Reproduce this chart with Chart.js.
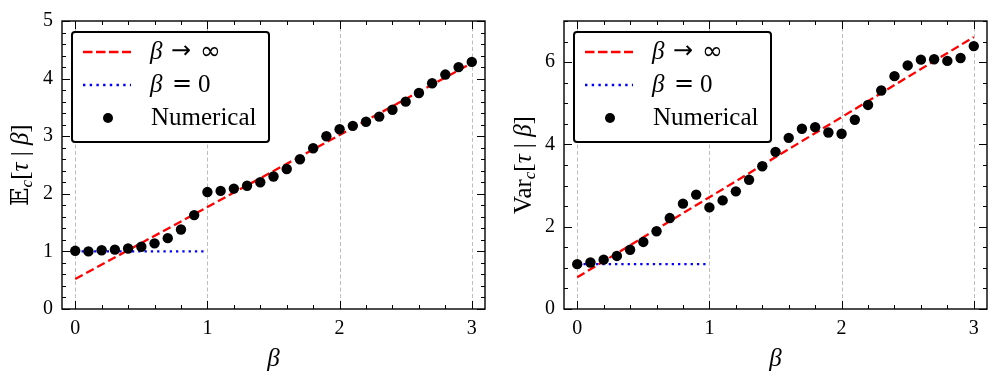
<!DOCTYPE html>
<html>
<head>
<meta charset="utf-8">
<script src="https://cdn.jsdelivr.net/npm/chart.js@4.4.0/dist/chart.umd.min.js"></script>
<style>
  html, body { margin: 0; padding: 0; background: #fff; }
  #wrap { display: flex; width: 996px; height: 378px; }
  canvas { display: block; }
</style>
</head>
<body>
<div id="wrap">
  <canvas id="meanChart" width="498" height="378"></canvas>
  <canvas id="varChart" width="498" height="378"></canvas>
</div>
<script>
// beta grid of the numerical runs
const betas = [0, 0.1, 0.2, 0.3, 0.4, 0.5, 0.6, 0.7, 0.8, 0.9, 1.0,
               1.1, 1.2, 1.3, 1.4, 1.5, 1.6, 1.7, 1.8, 1.9, 2.0,
               2.1, 2.2, 2.3, 2.4, 2.5, 2.6, 2.7, 2.8, 2.9, 3.0];

// numerical mean E_c[tau | beta]
const meanVals = [1.01, 1.00, 1.02, 1.03, 1.05, 1.08, 1.14, 1.23, 1.38, 1.63, 2.03,
                  2.05, 2.09, 2.14, 2.20, 2.30, 2.43, 2.60, 2.79, 3.00, 3.12,
                  3.18, 3.25, 3.34, 3.46, 3.60, 3.75, 3.92, 4.07, 4.20, 4.29];

// numerical variance Var_c[tau | beta]
const varVals = [1.09, 1.13, 1.20, 1.29, 1.44, 1.63, 1.89, 2.21, 2.56, 2.78, 2.47,
                 2.64, 2.86, 3.14, 3.47, 3.82, 4.16, 4.38, 4.42, 4.29, 4.26,
                 4.60, 4.96, 5.31, 5.66, 5.92, 6.06, 6.07, 6.03, 6.10, 6.39];

// asymptotes (beta -> inf) and beta = 0 limits
const asymX = [0, 3];
const meanAsym = [0.52, 4.27];
const varAsym = [0.77, 6.61];
const zeroX = [0, 1];
const meanZero = [1.0, 1.0];
const varZero = [1.09, 1.09];

const xTicks = [0, 1, 2, 3];
const meanTicks = [0, 1, 2, 3, 4, 5];
const varTicks = [0, 2, 4, 6];

const SERIF = '"Liberation Serif", "DejaVu Serif", serif';
const SYM = '"DejaVu Sans", "DejaVu Serif", sans-serif';

function pts(xs, ys) {
  return xs.map((x, i) => ({ x: x, y: ys[i] }));
}

// dashed vertical grid at the major x ticks, under the data
const gridPlugin = {
  id: 'vgrid',
  beforeDatasetsDraw(chart) {
    const ctx = chart.ctx;
    const a = chart.chartArea;
    ctx.save();
    ctx.strokeStyle = '#b5b5b5';
    ctx.lineWidth = 0.9;
    ctx.setLineDash([4, 2.5]);
    ctx.beginPath();
    chart.scales.x.ticks.forEach(t => {
      const px = Math.round(chart.scales.x.getPixelForValue(t.value)) + 0.5;
      ctx.moveTo(px, a.top);
      ctx.lineTo(px, a.bottom);
    });
    ctx.stroke();
    ctx.restore();
  }
};

// frame + inward major/minor ticks on all four sides, axis titles
const framePlugin = {
  id: 'frame',
  afterDraw(chart, args, opts) {
    const ctx = chart.ctx;
    const a = chart.chartArea;
    const xs = chart.scales.x, ys = chart.scales.y;
    ctx.save();
    ctx.strokeStyle = '#000';
    ctx.lineWidth = 1;
    ctx.beginPath();
    const minorX = [], minorY = [];
    for (let i = 0; i * opts.xMinor <= xs.max + 1e-9; i++) minorX.push(i * opts.xMinor);
    for (let i = 0; i * opts.yMinor <= ys.max + 1e-9; i++) minorY.push(i * opts.yMinor);
    minorX.forEach(v => {
      const px = Math.round(xs.getPixelForValue(v)) + 0.5;
      ctx.moveTo(px, a.bottom); ctx.lineTo(px, a.bottom - 4);
      ctx.moveTo(px, a.top); ctx.lineTo(px, a.top + 4);
    });
    minorY.forEach(v => {
      const py = Math.round(ys.getPixelForValue(v)) + 0.5;
      ctx.moveTo(a.left, py); ctx.lineTo(a.left + 4, py);
      ctx.moveTo(a.right, py); ctx.lineTo(a.right - 4, py);
    });
    xs.ticks.forEach(t => {
      const px = Math.round(xs.getPixelForValue(t.value)) + 0.5;
      ctx.moveTo(px, a.bottom); ctx.lineTo(px, a.bottom - 8);
      ctx.moveTo(px, a.top); ctx.lineTo(px, a.top + 8);
    });
    ys.ticks.forEach(t => {
      const py = Math.round(ys.getPixelForValue(t.value)) + 0.5;
      ctx.moveTo(a.left, py); ctx.lineTo(a.left + 8, py);
      ctx.moveTo(a.right, py); ctx.lineTo(a.right - 8, py);
    });
    ctx.stroke();
    ctx.lineWidth = 1.4;
    ctx.strokeRect(a.left, a.top, a.right - a.left, a.bottom - a.top);

    // axis titles
    ctx.fillStyle = '#000';
    ctx.textBaseline = 'alphabetic';
    ctx.font = 'italic 25px ' + SERIF;
    ctx.textAlign = 'center';
    ctx.fillText('\u03b2', (a.left + a.right) / 2, 366);

    const parts = opts.yTitle;
    const widths = parts.map(p => { ctx.font = p.font; return ctx.measureText(p.t).width; });
    const total = widths.reduce((s, w) => s + w, 0);
    ctx.translate(opts.yTitleX, (a.top + a.bottom) / 2);
    ctx.rotate(-Math.PI / 2);
    ctx.textAlign = 'left';
    let cx = -total / 2;
    parts.forEach((p, i) => {
      ctx.font = p.font;
      ctx.fillText(p.t, cx, 8 + (p.dy || 0));
      cx += widths[i];
    });
    ctx.restore();
  }
};

// legend box drawn in the upper left of the plot
const legendPlugin = {
  id: 'boxLegend',
  afterDraw(chart) {
    const ctx = chart.ctx;
    const a = chart.chartArea;
    const bx = a.left + 10, by = a.top + 11, bw = 197, bh = 110;
    ctx.save();
    ctx.fillStyle = '#fff';
    ctx.strokeStyle = '#000';
    ctx.lineWidth = 2;
    ctx.beginPath();
    ctx.roundRect(bx, by, bw, bh, 3);
    ctx.fill();
    ctx.stroke();

    const rows = [by + 20, by + 53, by + 86];
    const tx = bx + 78;
    // red dashed sample
    ctx.lineWidth = 2.4;
    ctx.strokeStyle = '#ff0000';
    ctx.setLineDash([9.5, 3.5]);
    ctx.beginPath(); ctx.moveTo(bx + 11, rows[0]); ctx.lineTo(bx + 59, rows[0]); ctx.stroke();
    // blue dotted sample
    ctx.strokeStyle = '#0000ff';
    ctx.setLineDash([2.4, 4.3]);
    ctx.beginPath(); ctx.moveTo(bx + 11, rows[1]); ctx.lineTo(bx + 59, rows[1]); ctx.stroke();
    ctx.setLineDash([]);
    // marker
    ctx.fillStyle = '#000';
    ctx.beginPath(); ctx.arc(bx + 36, rows[2], 5, 0, Math.PI * 2); ctx.fill();

    ctx.textBaseline = 'middle';
    ctx.textAlign = 'left';
    const put = (t, font, x, y) => { ctx.font = font; ctx.fillText(t, x, y); };
    put('\u03b2', 'italic 25px ' + SERIF, tx, rows[0]);
    put('\u2192', 'normal 24px ' + SYM, tx + 21, rows[0]);
    put('\u221e', 'normal 25px ' + SYM, tx + 50, rows[0]);
    put('\u03b2', 'italic 25px ' + SERIF, tx, rows[1]);
    put('=', 'normal 24px ' + SYM, tx + 22, rows[1]);
    put('0', 'normal 25px ' + SERIF, tx + 48, rows[1]);
    put('Numerical', 'normal 25px ' + SERIF, tx + 1, rows[2]);
    ctx.restore();
  }
};

function makeChart(id, vals, asym, zero, yMax, yTicks, yMinor, yWidth, padRight, yTitle, yTitleX) {
  return new Chart(document.getElementById(id), {
    type: 'scatter',
    data: {
      datasets: [
        {
          label: 'Numerical',
          data: pts(betas, vals),
          backgroundColor: '#000',
          borderWidth: 0,
          pointRadius: 5.2,
          order: 0
        },
        {
          label: 'beta -> inf',
          data: pts(asymX, asym),
          showLine: true,
          borderColor: '#ff0000',
          borderWidth: 2.3,
          borderDash: [8.5, 4],
          pointRadius: 0,
          order: 1
        },
        {
          label: 'beta = 0',
          data: pts(zeroX, zero),
          showLine: true,
          borderColor: '#0000ff',
          borderWidth: 2.3,
          borderDash: [2.3, 4],
          pointRadius: 0,
          order: 2
        }
      ]
    },
    options: {
      responsive: false,
      animation: false,
      layout: { padding: { top: 16, right: padRight, left: 0, bottom: 0 } },
      plugins: {
        legend: { display: false },
        tooltip: { enabled: false },
        frame: { xMinor: 0.2, yMinor: yMinor, yTitle: yTitle, yTitleX: yTitleX }
      },
      scales: {
        x: {
          type: 'linear',
          min: -0.1,
          max: 3.1,
          afterBuildTicks: s => { s.ticks = xTicks.map(v => ({ value: v })); },
          afterFit: s => { s.height = 69; },
          border: { display: false },
          grid: { display: false, drawTicks: false },
          ticks: {
            padding: 8,
            color: '#000',
            font: { family: SERIF, size: 20 }
          }
        },
        y: {
          type: 'linear',
          min: 0,
          max: yMax,
          afterBuildTicks: s => { s.ticks = yTicks.map(v => ({ value: v })); },
          afterFit: s => { s.width = yWidth; },
          border: { display: false },
          grid: { display: false, drawTicks: false },
          ticks: {
            padding: 9,
            color: '#000',
            font: { family: SERIF, size: 20 }
          }
        }
      }
    },
    plugins: [gridPlugin, framePlugin, legendPlugin]
  });
}

const F = 'px ' + SERIF;
makeChart('meanChart', meanVals, meanAsym, meanZero, 5, meanTicks, 0.2, 62, 13, [
  { t: '\ud835\udd3c', font: 'normal 24px "DejaVu Serif", "DejaVu Sans", serif' },
  { t: 'c', font: 'italic 17' + F, dy: 4 },
  { t: '[', font: 'normal 25' + F },
  { t: '\u03c4', font: 'italic 25' + F },
  { t: ' | ', font: 'normal 25' + F },
  { t: '\u03b2', font: 'italic 25' + F },
  { t: ']', font: 'normal 25' + F }
], 20);

makeChart('varChart', varVals, varAsym, varZero, 7, varTicks, 0.5, 66, 9, [
  { t: 'Var', font: 'normal 25' + F },
  { t: 'c', font: 'italic 17' + F, dy: 4 },
  { t: '[', font: 'normal 25' + F },
  { t: '\u03c4', font: 'italic 25' + F },
  { t: ' | ', font: 'normal 25' + F },
  { t: '\u03b2', font: 'italic 25' + F },
  { t: ']', font: 'normal 25' + F }
], 25);
</script>
</body>
</html>
